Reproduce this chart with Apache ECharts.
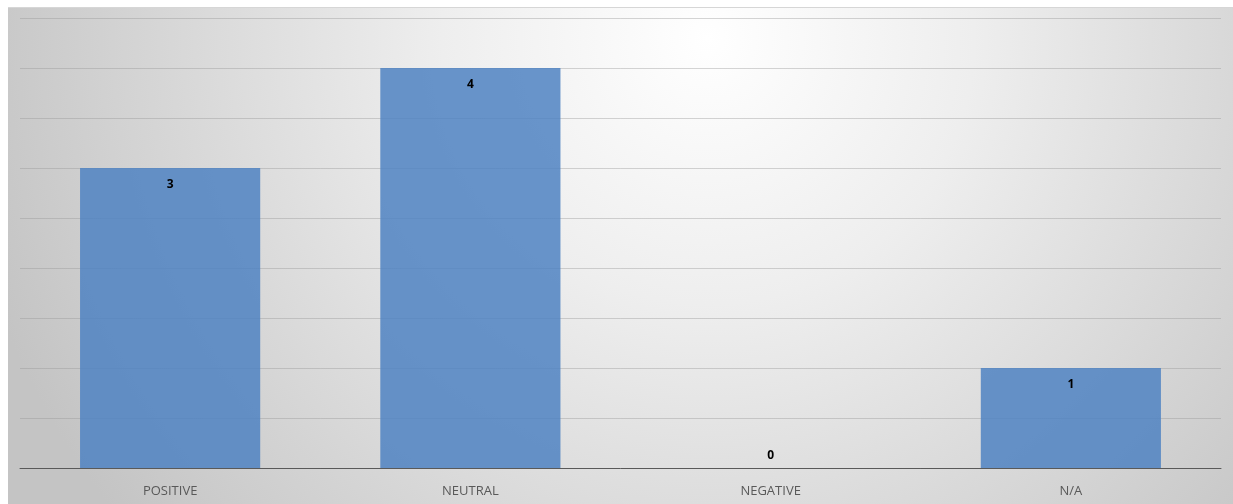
<!DOCTYPE html>
<html>
<head>
<meta charset="utf-8">
<script src="https://cdn.jsdelivr.net/npm/echarts@6/dist/echarts.min.js"></script>
<style>
  html, body { margin: 0; padding: 0; background: #fff; }
  #chart {
    position: absolute;
    left: 8px; top: 7px;
    width: 1225px; height: 497px;
    border-top: 1px solid #d6d6d6;
    box-sizing: border-box;
  }
</style>
</head>
<body>
<div id="chart"></div>
<script>
const categories = ['POSITIVE', 'NEUTRAL', 'NEGATIVE', 'N/A'];
const counts = [3, 4, 0, 1];

let myChart = echarts.init(document.getElementById('chart'));
let option;

option = {
  animation: false,
  graphic: [{
    type: 'rect',
    z: -10,
    silent: true,
    shape: { x: 0, y: 0, width: 1225, height: 496 },
    style: {
      fill: {
        type: 'radial', global: true,
        x: 700, y: 30, r: 760,
        colorStops: [
          { offset: 0, color: '#ffffff' },
          { offset: 0.35, color: '#eeeeee' },
          { offset: 1, color: '#c4c4c4' }
        ]
      }
    }
  }],
  grid: { left: 12, right: 12, top: 10, bottom: 36 },
  xAxis: {
    type: 'category',
    data: categories,
    axisLine: { lineStyle: { color: '#595959', width: 1 } },
    axisTick: { show: false },
    axisLabel: {
      color: '#595959',
      fontFamily: 'Open Sans',
      fontSize: 13,
      margin: 17
    }
  },
  yAxis: {
    type: 'value',
    min: 0,
    max: 4.5,
    interval: 0.5,
    axisLabel: { show: false },
    axisLine: { show: false },
    axisTick: { show: false },
    splitLine: { lineStyle: { color: 'rgba(150,150,150,0.4)', width: 1 } }
  },
  series: [{
    type: 'bar',
    barWidth: '60%',
    data: counts.map(v => ({
      value: v,
      label: v === 0 ? { position: 'top', distance: 6 } : {}
    })),
    itemStyle: { color: 'rgba(79,131,194,0.85)' },
    label: {
      show: true,
      position: 'insideTop',
      distance: 11,
      color: '#000',
      fontWeight: 'bold',
      fontFamily: 'Open Sans',
      fontSize: 12
    }
  }]
};
myChart.setOption(option, true);
</script>
</body>
</html>
